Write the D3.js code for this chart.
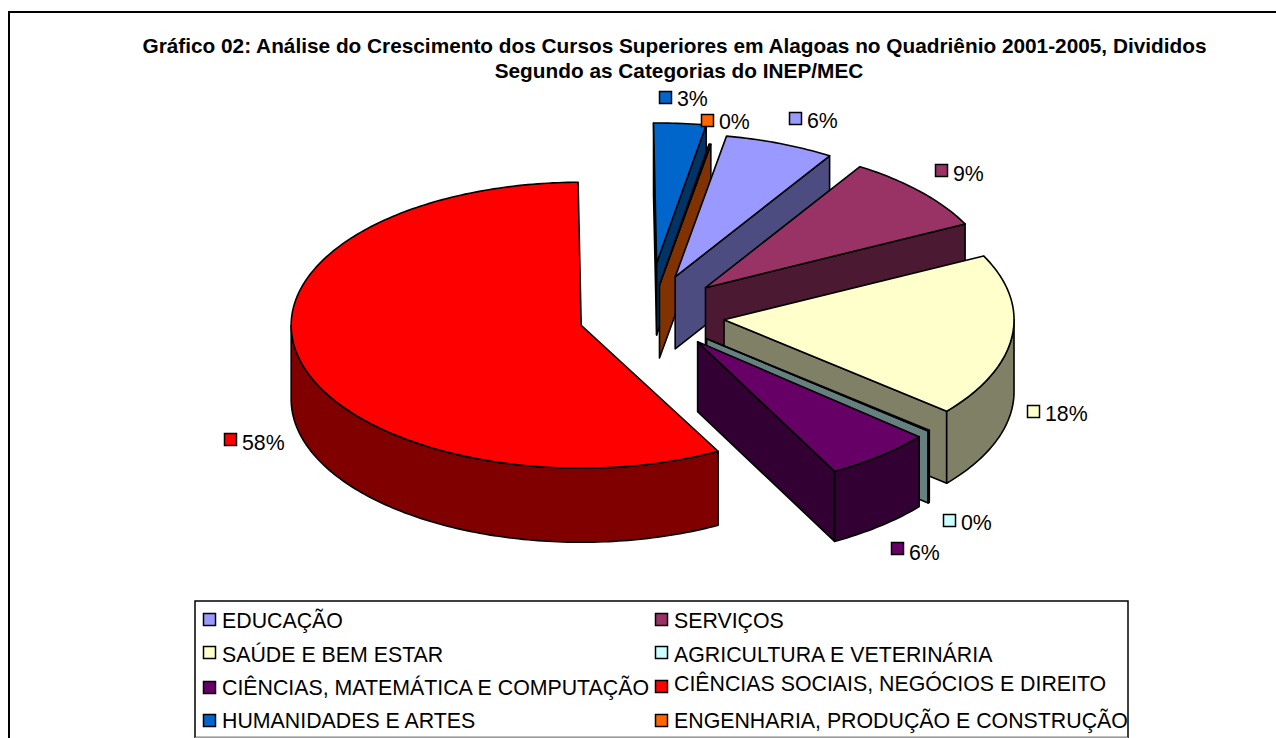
<!DOCTYPE html>
<html lang="pt">
<head>
<meta charset="utf-8">
<title>Gráfico 02</title>
<script src="https://cdn.jsdelivr.net/npm/d3@7/dist/d3.min.js"></script>
<style>
html,body{margin:0;padding:0;background:#fff;overflow:hidden}
text{font-family:"Liberation Sans",Arial,sans-serif;fill:#000}
</style>
</head>
<body>
<svg id="chart" width="1276" height="738"></svg>
<script>
// ---- data (legend order) ----
const categories = ["EDUCAÇÃO","SERVIÇOS","SAÚDE E BEM ESTAR","AGRICULTURA E VETERINÁRIA",
  "CIÊNCIAS, MATEMÁTICA E COMPUTAÇÃO","CIÊNCIAS SOCIAIS, NEGÓCIOS E DIREITO",
  "HUMANIDADES E ARTES","ENGENHARIA, PRODUÇÃO E CONSTRUÇÃO"];
const values = [6.1, 8.7, 18.4, 0.1, 6.0, 57.6, 2.9, 0.1];
const explodeX = [0.24, 0.258, 0.257, 0.255, 0.261, 0.245, 0.284, 0.188];
const explodeY = [0.271, 0.264, 0.40, 0.28, 0.259, 0.344, 0.351, 0.199];
const wallDepth = [72, 72, 72, 72, 70, 74, 72, 73];
const sliceRy = [143, 143, 143, 143, 147, 143, 140, 143];
const titleLines = ["Gráfico 02: Análise do Crescimento dos Cursos Superiores em Alagoas no Quadriênio 2001-2005, Divididos",
  "Segundo as Categorias do INEP/MEC"];
const topColors  = ["#9999ff","#993366","#ffffcc","#ccffff","#660066","#ff0000","#0066cc","#ff6600"];
const wallColors = ["#4c4c80","#4c1933","#808066","#668080","#330033","#800000","#003366","#803300"];
// ---- layout ----
const labelAnchors = [[789,112],[935,164],[1027,405],[943,514],[891,542],[224,433],[659,91],[701,114]];
const labelBase = [128.3,181,421.3,530.3,560,450,106.3,128.5];
const legendCols = [203, 655];
const legendRows = [[619,652,687,720],[619,652,686,720]];
const legendBase = [[627.5,661.5,694.5,727.5],[627.5,661.5,690.5,727.5]];
const cx = 650, cy = 313, rx = 290, ry = 143, startDeg = 10.2;

const svg = d3.select("#chart");
const rad = d3.scaleLinear().domain([0,360]).range([0,2*Math.PI]);
const unitX = d3.scaleLinear().domain([-1,1]).range([-rx,rx]);
const unitY = d3.scaleLinear().domain([-1,1]).range([-ry,ry]);
const pct = d3.format(".0%");
const total = d3.sum(values);

// chart frame, running off the page on the right and bottom
svg.append("rect").attr("x",9).attr("y",12).attr("width",1300).attr("height",760)
  .attr("fill","#fff").attr("stroke","#000").attr("stroke-width",2);

// title
svg.append("g").selectAll("text").data(titleLines).join("text")
  .attr("x",(d,i)=> i? 679:674.5).attr("y",(d,i)=>53+i*25).attr("text-anchor","middle")
  .attr("font-size",20.8).attr("font-weight","bold").text(d=>d);

// pie angles
const arcs = d3.pie().sort(null).startAngle(rad(startDeg)).endAngle(rad(startDeg+360))(values);
const line = d3.line();
const slices = arcs.map((a,i)=>{
  const mid = (a.startAngle+a.endAngle)/2;
  const ax = cx + unitX(explodeX[i]*Math.sin(mid));
  const ay = cy - unitY(explodeY[i]*Math.cos(mid));
  const pt = t => [ax + unitX(Math.sin(t)), ay - sliceRy[i]*Math.cos(t)];
  return {i, a, ax, ay, pt};
});
const sample = (t0,t1) => { const n = Math.max(2,Math.ceil((t1-t0)/rad(1))); return d3.range(n+1).map(k=>t0+(t1-t0)*k/n); };

// painter's order: from the back slice round to the big front one
const order = [6,7,0,1,2,3,4,5];
const gPie = svg.append("g").attr("stroke","#000").attr("stroke-width",1.6).attr("stroke-linejoin","round");
order.forEach(idx=>{
  const s = slices[idx], a = s.a, apex = [s.ax,s.ay];
  const wall = wallColors[idx], top = topColors[idx];
  const down = p => [p[0], p[1]+wallDepth[idx]];
  const wallPoly = pts => gPie.append("path").attr("d",line([...pts,...pts.slice().reverse().map(down)])+"Z").attr("fill",wall);
  // radial walls facing the viewer
  if (Math.sin(a.startAngle) < 0) wallPoly([apex,s.pt(a.startAngle)]);
  if (Math.sin(a.endAngle) > 0) wallPoly([apex,s.pt(a.endAngle)]);
  // outer wall: only the front half of the rim
  const t0 = Math.max(a.startAngle,rad(90)), t1 = Math.min(a.endAngle,rad(270));
  if (t1 > t0) wallPoly(sample(t0,t1).map(s.pt));
  // top face
  gPie.append("path").attr("d",line([apex,...sample(a.startAngle,a.endAngle).map(s.pt)])+"Z").attr("fill",top);
});

// data labels
const gLab = svg.append("g");
arcs.forEach((a,i)=>{
  const [x,y] = labelAnchors[i];
  gLab.append("rect").attr("x",x+.5).attr("y",y+.5).attr("width",12).attr("height",12)
    .attr("fill",topColors[i]).attr("stroke","#000").attr("stroke-width",1.5);
  gLab.append("text").attr("x",x+18).attr("y",labelBase[i]).attr("font-size",21.33).text(pct(a.value/total));
});

// legend
svg.append("rect").attr("x",195).attr("y",601).attr("width",933).attr("height",136.5)
  .attr("fill","#fff").attr("stroke","#000").attr("stroke-width",1.5);
svg.append("line").attr("x1",195).attr("x2",1128).attr("y1",737.5).attr("y2",737.5).attr("stroke","#999");
const gLeg = svg.append("g");
categories.forEach((c,i)=>{
  const col = i%2, row = Math.floor(i/2);
  gLeg.append("rect").attr("x",legendCols[col]+.5).attr("y",legendRows[col][row]-5.5).attr("width",12).attr("height",12)
    .attr("fill",topColors[i]).attr("stroke","#000").attr("stroke-width",1.5);
  gLeg.append("text").attr("x",legendCols[col]+19).attr("y",legendBase[col][row]).attr("font-size",21.33).text(c);
});
</script>
</body>
</html>
